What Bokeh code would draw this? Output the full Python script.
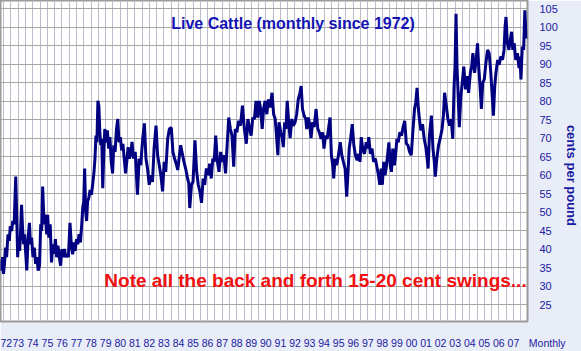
from bokeh.plotting import figure
from bokeh.models import FixedTicker, Range1d, Label
from bokeh.embed import file_html
from bokeh.resources import INLINE

# months since Jan 1972 and price (cents per pound)
months_1972_80 = [-2.6, -1.9, -1.0, -0.2, 0.6, 1.6, 2.4, 3.5, 4.6, 5.4, 6.5, 7.5, 8.6, 9.9, 10.7,
                  11.5, 12.3, 13.1, 13.9, 14.7, 15.5, 16.3, 17.2, 18.0, 19.0, 20.1, 21.2, 22.0, 23.0, 24.1,
                  25.2, 26.3, 27.3, 28.4, 29.5, 30.5, 31.3, 32.1, 33.2, 34.3, 35.4, 36.2, 37.2, 38.3, 39.4,
                  40.4, 41.5, 42.6, 43.6, 44.7, 45.8, 46.9, 47.9, 49.0, 50.1, 51.1, 52.2, 53.3, 54.6, 55.7,
                  56.8, 57.8, 58.9, 60.0, 61.0, 62.1, 63.2, 64.3, 65.1, 65.9, 66.7, 67.5, 68.3, 69.1, 70.1,
                  71.2, 72.3, 73.4, 74.4, 75.2, 76.0, 76.8, 77.6, 78.4, 79.2, 80.0, 80.8, 81.6, 82.5, 83.3,
                  84.3, 85.4, 86.5, 87.5, 88.6, 89.7, 90.7, 91.8, 92.9, 94.0, 95.0, 96.1, 97.2, 98.2, 99.3,
                  100.4, 101.4, 102.5, 103.6, 104.7]
cents_1972_80 = [36.9, 34.2, 37.8, 33.3, 36.0, 40.4, 37.8, 44.0, 42.2, 46.2, 44.9, 47.6, 46.7, 59.6, 49.3,
                 37.8, 43.1, 39.5, 44.9, 52.0, 45.8, 41.3, 44.0, 39.5, 34.2, 43.1, 47.1, 41.3, 43.1, 37.8,
                 40.4, 36.0, 37.8, 34.2, 35.5, 46.7, 44.9, 56.9, 46.7, 49.3, 44.0, 49.3, 43.1, 46.7, 36.4,
                 41.3, 38.7, 42.7, 37.8, 40.9, 37.8, 35.5, 40.0, 37.8, 40.0, 37.8, 38.6, 37.8, 47.1, 41.3,
                 38.6, 41.8, 39.5, 42.7, 41.3, 44.0, 41.8, 46.7, 51.1, 52.9, 61.8, 50.2, 47.6, 52.9, 53.8,
                 56.0, 54.7, 57.8, 60.9, 64.5, 70.7, 68.9, 80.1, 78.8, 71.6, 68.1, 69.8, 56.5, 66.3, 72.5,
                 68.9, 72.1, 67.2, 70.3, 63.6, 60.5, 68.1, 66.3, 72.5, 75.2, 68.9, 70.3, 66.7, 68.5, 64.5,
                 60.5, 63.6, 67.6, 64.5, 65.8]

months_1980_89 = [105.7, 107.0, 108.4, 110.2, 111.6, 112.9, 114.5, 115.9, 117.2, 118.5,
                  119.9, 121.2, 122.6, 123.9, 125.5, 126.8, 128.2, 129.5, 130.9, 132.2,
                  133.5, 135.1, 136.5, 138.1, 139.4, 140.8, 142.1, 143.4, 144.8, 145.8,
                  147.2, 148.5, 149.9, 151.2, 152.5, 153.3, 154.7, 156.0, 157.6, 159.0,
                  160.3, 161.6, 163.0, 164.3, 165.6, 167.0, 168.3, 169.7, 171.0, 172.3,
                  173.4, 174.7, 176.1, 177.4, 178.8, 180.1, 181.4, 182.8, 184.1, 185.4,
                  186.8, 188.1, 189.5, 190.8, 192.1, 193.5, 195.1, 196.7, 198.3, 199.9,
                  201.2, 202.6, 203.9, 205.2, 206.6, 207.9, 209.3, 210.6, 211.7, 213.0]
cents_1980_89 = [69.0, 64.5, 66.3, 54.7, 64.5, 62.7, 69.8, 74.0, 64.5, 61.8,
                 57.4, 60.0, 58.2, 67.2, 73.4, 65.4, 62.7, 60.0, 55.6, 63.6,
                 60.9, 69.8, 72.5, 72.9, 66.3, 64.5, 63.1, 61.4, 65.4, 68.1,
                 65.8, 63.6, 61.8, 59.6, 57.8, 51.1, 57.4, 58.2, 69.4, 60.9,
                 57.4, 55.6, 52.5, 59.1, 57.4, 61.8, 60.0, 63.1, 59.1, 64.5,
                 63.6, 70.7, 63.6, 60.9, 66.3, 63.6, 65.4, 60.5, 68.1, 75.6,
                 72.5, 70.7, 62.3, 72.5, 71.6, 74.7, 73.4, 78.8, 72.5, 68.5,
                 75.2, 72.5, 70.7, 75.6, 75.2, 80.1, 75.6, 80.1, 77.9, 72.5]

months_1989_98 = [214.1, 215.4, 216.8, 218.1, 219.5, 221.1, 222.4, 223.7, 224.8, 225.9,
                  226.9, 228.3, 229.6, 230.4, 231.5, 232.6, 233.6, 235.0, 236.0, 237.4,
                  238.7, 240.1, 241.4, 242.7, 244.1, 245.1, 246.2, 247.5, 248.9, 249.7,
                  251.0, 252.1, 253.2, 254.5, 255.8, 257.4, 258.8, 260.1, 261.5, 262.8,
                  263.9, 265.2, 266.5, 267.6, 268.9, 270.0, 271.1, 271.9, 273.0, 274.3,
                  275.6, 277.3, 278.6, 279.9, 281.3, 282.6, 283.7, 284.7, 285.8, 287.2,
                  288.5, 289.8, 291.2, 292.5, 293.6, 294.6, 296.0, 297.3, 298.7, 299.7,
                  300.8, 302.1, 303.5, 304.8, 306.2, 307.5, 308.8, 309.9, 311.0, 312.0,
                  313.1, 314.2, 315.3, 316.3, 317.4, 318.5, 319.5, 320.6, 321.9]
cents_1989_98 = [77.9, 80.1, 76.5, 80.5, 78.3, 82.3, 76.5, 75.2, 70.7, 65.4,
                 74.3, 71.6, 69.8, 67.6, 74.3, 72.5, 80.1, 73.4, 70.0, 75.2,
                 73.4, 74.3, 76.5, 80.5, 82.3, 84.1, 77.9, 76.1, 75.2, 72.5,
                 75.6, 73.8, 70.0, 74.3, 73.0, 77.9, 72.5, 71.6, 69.8, 71.6,
                 67.2, 70.7, 69.8, 72.5, 75.6, 65.4, 62.7, 59.1, 64.5, 62.7,
                 64.9, 68.9, 65.4, 63.6, 61.8, 54.2, 60.9, 67.2, 69.8, 73.8,
                 68.1, 65.4, 64.0, 65.8, 63.6, 70.3, 66.7, 65.8, 68.9, 67.2,
                 70.3, 65.8, 67.2, 63.6, 64.5, 62.3, 60.0, 57.4, 61.8, 57.4,
                 63.6, 60.0, 62.3, 65.4, 68.9, 62.7, 60.9, 67.2, 62.7]

months_1998_07 = [322.9, 324.0, 325.1, 326.4, 327.8, 329.1, 330.4, 331.8, 333.1, 334.4,
                  335.8, 337.1, 338.5, 339.5, 340.6, 341.7, 342.7, 343.8, 345.1, 346.5,
                  347.8, 349.2, 349.7, 350.8, 352.4, 353.7, 354.8, 355.6, 356.9, 358.3,
                  359.6, 361.2, 362.3, 363.3, 364.7, 366.0, 367.4, 368.7, 370.0, 371.1,
                  371.9, 372.7, 373.5, 374.3, 375.4, 376.7, 378.1, 379.1, 380.5, 381.8,
                  383.1, 384.5, 385.6, 386.6, 388.0, 389.3, 390.4, 391.4, 392.5, 393.6,
                  394.7, 396.0, 397.3, 398.7, 400.0, 401.3, 402.7, 403.5, 404.6, 405.6,
                  407.0, 408.3, 409.6, 411.0, 412.3, 413.1, 413.9, 415.0, 416.3, 417.4,
                  418.5, 419.5, 420.6, 421.9, 423.3, 424.6, 425.4, 426.2, 427.3, 428.4,
                  429.4, 430.5]
cents_1998_07 = [65.4, 69.8, 68.9, 71.6, 70.7, 73.0, 74.7, 68.5, 68.1, 66.3,
                 65.4, 71.6, 77.9, 79.6, 83.6, 77.9, 74.7, 72.1, 73.8, 69.8,
                 67.6, 63.6, 61.8, 70.7, 76.1, 67.2, 63.6, 59.6, 64.5, 68.1,
                 69.8, 72.5, 76.1, 82.3, 78.8, 75.2, 73.4, 75.2, 69.8, 84.1,
                 89.4, 103.7, 89.4, 83.2, 73.0, 81.4, 85.9, 89.4, 83.2, 86.8,
                 82.3, 87.7, 89.4, 93.0, 87.7, 91.2, 95.7, 89.4, 84.1, 77.9,
                 85.0, 85.9, 90.3, 93.9, 93.0, 88.1, 80.5, 76.1, 84.1, 87.7,
                 91.2, 89.9, 92.1, 91.2, 93.9, 100.1, 102.8, 95.7, 93.9, 96.6,
                 98.8, 93.9, 95.7, 91.2, 93.0, 89.0, 92.1, 85.9, 94.8, 93.9,
                 104.6, 97.0]

year_ticks = [0, 12, 24, 36, 48, 60, 72, 84, 96, 108, 120, 132, 144, 156, 168, 180, 192, 204,
              216, 228, 240, 252, 264, 276, 288, 300, 312, 324, 336, 348, 360, 372, 384, 396, 408, 420]
year_labels = ["72", "73", "74", "75", "76", "77", "78", "79", "80", "81", "82", "83", "84", "85",
               "86", "87", "88", "89", "90", "91", "92", "93", "94", "95", "96", "97", "98", "99",
               "00", "01", "02", "03", "04", "05", "06", "07"]
price_ticks = [25, 30, 35, 40, 45, 50, 55, 60, 65, 70, 75, 80, 85, 90, 95, 100, 105]
half_year_ticks = list(range(0, 432, 6))
x_unit_tick = 431.0
x_unit_label = "\u00a0" * 14 + "Monthly"
y_unit_label = "\u00a0" * 8 + "cents per pound"

months = months_1972_80 + months_1980_89 + months_1989_98 + months_1998_07
cents = cents_1972_80 + cents_1980_89 + cents_1989_98 + cents_1998_07

p = figure(width=581, height=351, output_backend="svg", toolbar_location=None,
           x_range=Range1d(-2.65, 431.6), y_range=Range1d(20.4, 107.27),
           y_axis_location="right", min_border_left=0, min_border_top=0,
           min_border_right=40, min_border_bottom=26)

p.background_fill_color = "white"
p.border_fill_color = "#e9edf7"
p.outline_line_color = "#9a9a9a"
p.outline_line_width = 2

p.xgrid.ticker = FixedTicker(ticks=half_year_ticks)
p.xgrid.grid_line_color = "#bcbccc"
p.ygrid.ticker = FixedTicker(ticks=price_ticks)
p.ygrid.grid_line_color = "#a8a8a8"

overrides = {t: s for t, s in zip(year_ticks, year_labels)}
overrides[x_unit_tick] = x_unit_label
p.xaxis.ticker = FixedTicker(ticks=year_ticks + [x_unit_tick])
p.xaxis.major_label_overrides = overrides
p.yaxis.ticker = FixedTicker(ticks=price_ticks)
for ax, st, fs in ((p.xaxis, 9, "10.5px"), (p.yaxis, 6, "11px")):
    ax.axis_line_color = None
    ax.major_tick_line_color = None
    ax.minor_tick_line_color = None
    ax.major_label_standoff = st
    ax.major_label_text_font = "Liberation Sans"
    ax.major_label_text_font_size = fs
    ax.major_label_text_color = "#2020a0"

p.yaxis.axis_label = y_unit_label
p.yaxis.axis_label_standoff = 3
p.yaxis.axis_label_text_font = "Liberation Sans"
p.yaxis.axis_label_text_font_style = "bold"
p.yaxis.axis_label_text_font_size = "13px"
p.yaxis.axis_label_text_color = "#1a1aa0"

p.line(months, cents, line_width=3, line_color="#000080")

p.add_layout(Label(x=292.5, y=298, x_units="screen", y_units="screen",
                   text="Live Cattle (monthly since 1972)", text_font="Liberation Sans",
                   text_font_style="bold", text_font_size="16px", text_color="#1414b4",
                   text_align="center", text_baseline="alphabetic"))
p.add_layout(Label(x=315, y=41, x_units="screen", y_units="screen",
                   text="Note all the back and forth 15-20 cent swings...", text_font="Liberation Sans",
                   text_font_style="bold", text_font_size="19px", text_color="#f01010",
                   text_align="center", text_baseline="alphabetic"))

open("out.html", "w").write(file_html(p, INLINE))
